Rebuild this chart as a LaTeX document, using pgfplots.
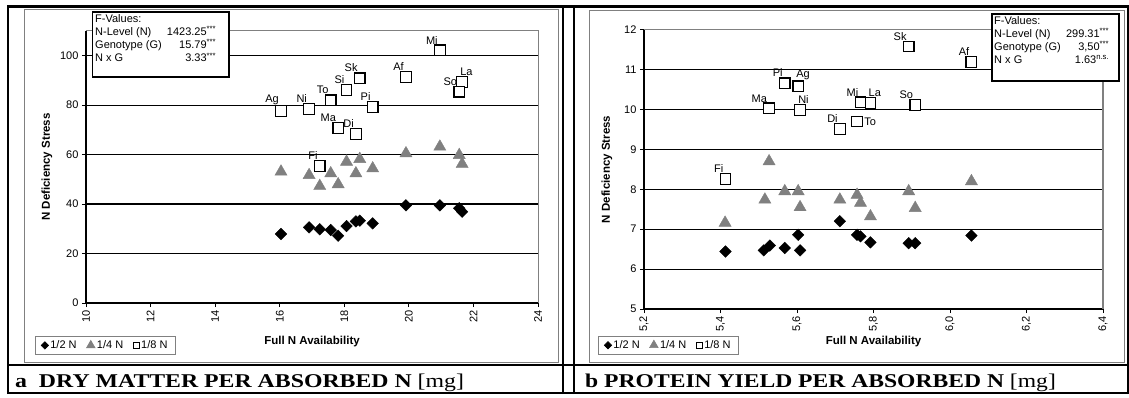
\documentclass[border=0pt]{standalone}
\usepackage{pgfplots}
\pgfplotsset{compat=1.18}
\usepackage{graphicx}
\usepackage{fontspec}
\setmainfont{Liberation Sans}
\newfontfamily\tnr{Liberation Serif}
\newcommand{\lbl}{\fontsize{11}{13}\selectfont}
\newcommand{\tkf}{\fontsize{11}{13}\selectfont}
\definecolor{tri}{RGB}{128,128,128}
\pgfplotsset{
  common/.style={
    scale only axis, anchor=south west, clip=false,
    axis lines*=left, axis line style={-, line width=1.4pt, black},
    tick align=outside, major tick length=4pt,
    tick style={black, line width=1pt},
    ymajorgrids, grid style={black, line width=1.2pt},
    /pgf/number format/assume math mode=true,
    ticklabel style={font=\tkf},
    xticklabel style={rotate=90, anchor=east},
    xlabel={\bfseries Full N Availability},
    ylabel={\bfseries N Deficiency Stress},
    label style={font=\fontsize{11.5}{13}\selectfont},
    legend columns=3,
    legend style={draw=tri, line width=0.6pt, font=\fontsize{11}{12}\selectfont,
      inner xsep=6pt, inner ysep=3pt,
      nodes={inner xsep=1.8pt, inner ysep=1pt},
      /tikz/every even column/.append style={column sep=8pt}},
    legend image code/.code={\draw[mark repeat=1,#1] plot coordinates {(0pt,0pt)};},
  },
  half/.style={only marks, mark=square*, mark size=4.1pt, mark options={rotate=45, fill=black, draw=black}},
  quart/.style={only marks, mark=triangle*, mark size=7pt, mark options={fill=tri, draw=tri}},
  eighth/.style={only marks, mark=square*, mark size=5.3pt, mark options={fill=white, draw=black, line width=1.3pt}},
  lab/.style={draw=none, nodes near coords, point meta=explicit symbolic,
    every node near coord/.append style={font=\lbl, inner sep=0pt, anchor=south east, xshift=-2pt, yshift=6pt}},
  labsw/.style={draw=none, nodes near coords, point meta=explicit symbolic,
    every node near coord/.append style={font=\lbl, inner sep=0pt, anchor=south west, xshift=-2pt, yshift=6pt}},
  labe/.style={draw=none, nodes near coords, point meta=explicit symbolic,
    every node near coord/.append style={font=\lbl, inner sep=0pt, anchor=west, xshift=7pt, yshift=0pt}},
}
\begin{document}
\begin{tikzpicture}
\path[use as bounding box] (0pt,0pt) rectangle (1129pt,397pt);
% chart areas
\draw[tri, line width=0.8pt] (24pt,34.3pt) rectangle (558pt,387.5pt);
\draw[tri, line width=0.8pt] (589pt,34.3pt) rectangle (1124pt,387pt);

\begin{axis}[common, at={(86pt,94pt)}, width=452pt, height=272pt,
  xmin=10, xmax=24, ymin=0, ymax=110,
  xtick={10,12,14,16,18,20,22,24}, ytick={0,20,40,60,80,100},
  xlabel style={at={(axis description cs:0.5,-0.143)}, anchor=center},
  ylabel style={at={(axis description cs:-0.0863,0.5)}, anchor=center},
  legend style={at={(axis description cs:-0.113,-0.156)}, anchor=west},
]
\addlegendimage{half, mark size=2.6pt}\addlegendentry{1/2 N}
\addlegendimage{quart, mark size=5pt}\addlegendentry{1/4 N}
\addlegendimage{eighth, mark size=3.2pt, mark options={fill=white, draw=black, line width=0.8pt}}\addlegendentry{1/8 N}
\draw[tri, line width=1pt] (rel axis cs:0,1) -- (rel axis cs:1,1) -- (rel axis cs:1,0);
\addplot[half] table {
x y
16.04 27.9
16.91 30.6
17.24 29.8
17.58 29.5
17.81 27.2
18.07 31.1
18.36 33.0
18.48 33.3
18.88 32.2
19.91 39.5
20.96 39.5
21.56 38.3
21.65 36.9
};
\addplot[quart] table {
x y
16.04 53.1
16.91 51.7
17.24 47.3
17.58 52.4
17.81 48.0
18.07 57.1
18.36 52.4
18.48 58.2
18.88 54.4
19.91 60.5
20.96 63.2
21.56 59.8
21.65 56.2
};
\addplot[eighth] table {
x y
16.04 77.6
16.91 78.4
17.58 82.0
18.07 86.1
18.48 90.9
19.91 91.4
20.96 102.2
21.65 89.4
21.56 85.5
18.88 79.3
17.81 70.8
18.36 68.3
17.24 55.4
};
\addplot[lab] table[meta=lab] {
x y lab
16.04 77.6 Ag
16.91 78.4 Ni
17.58 82.0 To
18.07 86.1 Si
18.48 90.9 Sk
19.91 91.4 Af
20.96 102.2 Mi
21.56 85.5 So
18.88 79.3 Pi
17.81 70.8 Ma
18.36 68.3 Di
17.24 55.4 Fi
};
\addplot[labsw] table[meta=lab] {
x y lab
21.65 89.4 La
};
\end{axis}

\begin{axis}[common, at={(644pt,88pt)}, width=459pt, height=279.3pt,
  xmin=5.2, xmax=6.4, ymin=5, ymax=12,
  xtick={5.2,5.4,5.6,5.8,6.0,6.2,6.4}, ytick={5,6,7,8,9,10,11,12},
  xticklabel style={/pgf/number format/.cd, use comma, fixed, fixed zerofill, precision=1},
  xlabel style={at={(axis description cs:0.5,-0.117)}, anchor=center},
  ylabel style={at={(axis description cs:-0.0806,0.5)}, anchor=center},
  legend style={at={(axis description cs:-0.1002,-0.1296)}, anchor=west},
]
\addlegendimage{half, mark size=2.6pt}\addlegendentry{1/2 N}
\addlegendimage{quart, mark size=5pt}\addlegendentry{1/4 N}
\addlegendimage{eighth, mark size=3.2pt, mark options={fill=white, draw=black, line width=0.8pt}}\addlegendentry{1/8 N}
\draw[tri, line width=1.4pt] (rel axis cs:0,1) -- (rel axis cs:1,1) -- (rel axis cs:1,0);
\addplot[half] table {
x y
5.413 6.44
5.513 6.47
5.529 6.59
5.568 6.53
5.603 6.86
5.608 6.47
5.712 7.20
5.757 6.86
5.766 6.82
5.792 6.67
5.892 6.65
5.909 6.65
6.056 6.84
};
\addplot[quart] table {
x y
5.412 7.16
5.516 7.74
5.527 8.70
5.568 7.95
5.603 7.95
5.608 7.55
5.712 7.74
5.757 7.86
5.766 7.66
5.792 7.32
5.892 7.95
5.909 7.53
6.056 8.20
};
\addplot[eighth] table {
x y
5.413 8.26
5.527 10.03
5.568 10.66
5.603 10.58
5.608 9.99
5.712 9.51
5.892 11.58
6.056 11.19
5.766 10.18
5.792 10.16
5.909 10.11
5.757 9.70
};
\addplot[lab] table[meta=lab] {
x y lab
5.413 8.26 Fi
5.527 10.03 Ma
5.568 10.66 Pi
5.712 9.51 Di
5.892 11.58 Sk
6.056 11.19 Af
5.766 10.18 Mi
5.909 10.11 So
};
\addplot[labsw] table[meta=lab] {
x y lab
5.603 10.58 Ag
5.608 9.99 Ni
5.792 10.16 La
};
\addplot[labe] table[meta=lab] {
x y lab
5.757 9.70 To
};
\end{axis}

% F-value boxes
\draw[black, line width=1.4pt, fill=white] (92.7pt,320pt) rectangle (229pt,385pt);
\node[anchor=north west, inner sep=0pt, font=\fontsize{11}{12.8}\selectfont] at (95pt,383.5pt)
{\begin{tabular*}{121pt}{@{}l@{\extracolsep{\fill}}r@{}}
F-Values: & \\
N-Level (N) & 1423.25\textsuperscript{***}\\
Genotype (G) & 15.79\textsuperscript{***}\\
N x G & 3.33\textsuperscript{***}
\end{tabular*}};
\draw[black, line width=1.4pt, fill=white] (992pt,316pt) rectangle (1119pt,383pt);
\node[anchor=north west, inner sep=0pt, font=\fontsize{11}{12.8}\selectfont] at (994pt,381.5pt)
{\begin{tabular*}{115pt}{@{}l@{\extracolsep{\fill}}r@{}}
F-Values: & \\
N-Level (N) & 299.31\textsuperscript{***}\\
Genotype (G) & 3,50\textsuperscript{***}\\
N x G & 1.63\textsuperscript{n.s.}
\end{tabular*}};

% table lines
\draw[black, line width=2.5pt] (7pt,390.5pt) -- (1128.5pt,390.5pt);
\draw[black, line width=2pt] (7pt,4pt) -- (1128.5pt,4pt);
\draw[black, line width=2pt] (7pt,32pt) -- (1128.5pt,32pt);
\draw[black, line width=2pt] (8pt,3pt) -- (8pt,391.5pt);
\draw[black, line width=2pt] (1127.5pt,3pt) -- (1127.5pt,391.5pt);
\draw[black, line width=2pt] (563pt,3pt) -- (563pt,391.5pt);
\draw[black, line width=2pt] (574pt,3pt) -- (574pt,391.5pt);

% captions
\node[anchor=base west, inner sep=0pt] at (15pt,10pt) {\scalebox{1.22}[1]{\tnr\fontsize{19.5}{21}\selectfont\textbf{a\ \ DRY MATTER PER ABSORBED N} [mg]}};
\node[anchor=base west, inner sep=0pt] at (585pt,10pt) {\scalebox{1.21}[1]{\tnr\fontsize{19.5}{21}\selectfont\textbf{b PROTEIN YIELD PER ABSORBED N} [mg]}};
\end{tikzpicture}
\end{document}
